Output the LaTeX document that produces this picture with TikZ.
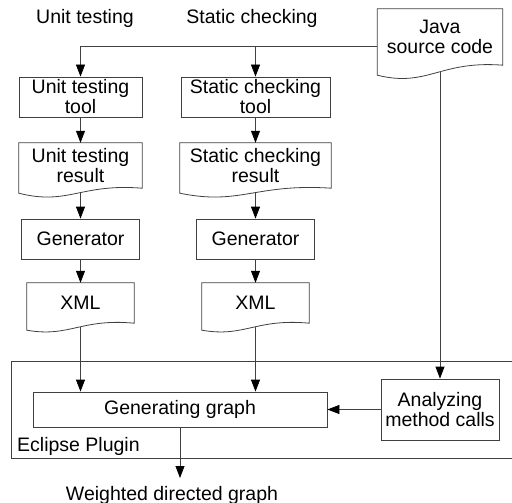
\documentclass[tikz,border=0pt]{standalone}
\usepackage{fontspec}
\setmainfont{Liberation Sans}
\usetikzlibrary{arrows.meta,calc}
\begin{document}
\begin{tikzpicture}[x=1pt,y=-1pt,
  every node/.style={font=\fontsize{19.5}{20}\selectfont, inner sep=0pt, align=center, text=black},
  box/.style={draw=black!75, line width=0.8pt},
  doc/.style={draw=none},
  link/.style={draw=black!75, line width=0.8pt},
  arr/.style={link, -{Triangle[length=12pt,width=9pt,color=black]}}]
\useasboundingbox (0,0) rectangle (512,503);

% plugin frame
\node[box, minimum width=502pt, minimum height=97pt] (plugin) at (262,409.5) {};
\node[anchor=base west] (plabel) at (17,451) {Eclipse Plugin};

% column titles
\node[anchor=base] (utlbl) at (85,24) {Unit testing};
\node[anchor=base] (sclbl) at (252,24) {Static checking};

% process boxes
\node[box, minimum width=123pt, minimum height=40pt] (uttool) at (80.5,97) {Unit testing\\tool};
\node[box, minimum width=149pt, minimum height=40pt] (sctool) at (255.5,97) {Static checking\\tool};
\node[box, minimum width=118pt, minimum height=40pt] (genA) at (80.5,239) {Generator};
\node[box, minimum width=118pt, minimum height=40pt] (genB) at (255.5,239) {Generator};
\node[box, minimum width=294pt, minimum height=35pt] (gen) at (180,409.5) {Generating graph};
\node[box, minimum width=118pt, minimum height=61pt] (ana) at (440,409.5) {Analyzing\\method calls};

% document boxes (outline drawn below with a wavy bottom)
\node[doc, minimum width=123pt, minimum height=45pt] (utres) at (80.5,165.5) {Unit testing\\result};
\node[doc, minimum width=151pt, minimum height=45pt] (scres) at (255.5,165.5) {Static checking\\result};
\node[doc, minimum width=107pt, minimum height=40pt] (xmlA) at (80.5,303) {XML};
\node[doc, minimum width=107pt, minimum height=40pt] (xmlB) at (255.5,303) {XML};
\node[doc, minimum width=125pt, minimum height=56pt] (java) at (440,37) {Java\\source code};

\foreach \n/\d/\e in {utres/5/5, scres/5/5, xmlA/7/3, xmlB/7/3, java/10/5}{
  \draw[box] (\n.north west) -- (\n.north east) -- (\n.south east)
    .. controls ($(\n.south east)!0.5!(\n.south west)+(0,-5)$)
           and ($(\n.south east)!0.6!(\n.south west)+(0,\d+2.5*\e)$)
    .. ($(\n.south west)+(0,\d)$) -- cycle;
}

% connectors
\coordinate (tap) at ($(java.west)+(0,9)$);
\draw[arr] (tap) -| (uttool.north);
\draw[arr] (tap -| sctool.north) -- (sctool.north);
\draw[arr] (uttool) -- (utres);
\draw[arr] (sctool) -- (scres);
\draw[arr] ($(utres.south)+(0,5)$) -- (genA.north);
\draw[arr] ($(scres.south)+(0,5)$) -- (genB.north);
\draw[arr] (genA) -- (xmlA);
\draw[arr] (genB) -- (xmlB);
\draw[arr] ($(xmlA.south)+(0,4)$) -- (xmlA.south |- gen.north);
\draw[arr] ($(xmlB.south)+(0,4)$) -- (xmlB.south |- gen.north);
\draw[arr] ($(java.south)+(0,7)$) -- (ana.north);
\draw[arr] (ana.west) -- (gen.east);
\coordinate (out) at (180,478);
\draw[arr] (gen.south) -- (out);
\node[anchor=base] (wdg) at (172,500) {Weighted directed graph};
\end{tikzpicture}
\end{document}
